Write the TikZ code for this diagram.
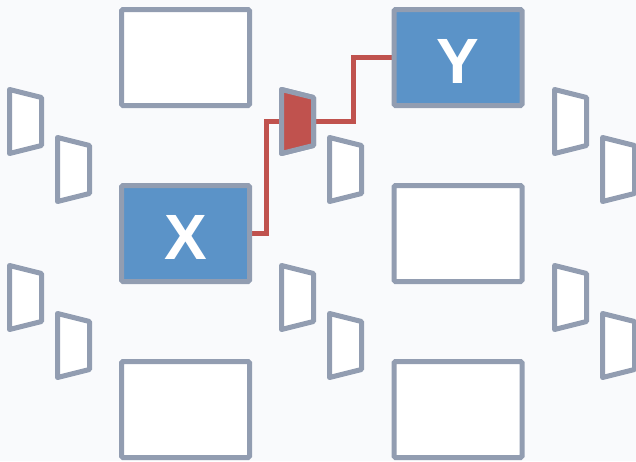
\documentclass[tikz,border=0pt]{standalone}
\usepackage{fontspec}
\setmainfont{Liberation Sans}
\usetikzlibrary{positioning}

\definecolor{frame}{HTML}{929DB1}
\definecolor{boxblue}{HTML}{5B93C8}
\definecolor{linkred}{HTML}{C0524E}
\definecolor{paper}{HTML}{F9FAFC}

\pgfdeclarelayer{bg}
\pgfdeclarelayer{wires}
\pgfsetlayers{bg,wires,main}

\tikzset{
  box/.style={draw=frame, line width=5pt, fill=white, rounded corners=1.5pt,
    minimum width=128pt, minimum height=96pt, inner sep=0pt, outer sep=0pt},
  hot/.style={box, fill=boxblue, text=white, text height=51pt, text depth=0pt,
    font=\fontsize{64}{64}\selectfont\bfseries},
  flap/.style={draw=frame, line width=5pt, line join=round},
  link/.style={draw=linkred, line width=5pt}
}

% one trapezoid, given its top left corner
\newcommand{\flapat}[3][white]{\draw[flap, fill=#1] (#2,#3) -- ++(32,8) -- ++(0,48) -- ++(-32,8) -- cycle;}

\begin{document}
\begin{tikzpicture}[x=1pt, y=-1pt]
        \begin{pgfonlayer}{bg}
          \fill[paper] (0,0) rectangle (636,461);
        \end{pgfonlayer}
        \useasboundingbox (0,0) rectangle (636,461);

        % Boxes
        \node[box] (tl) at (185.5,57.5) {};
        \node[hot, below=80pt of tl] (X) {X};
        \node[box, below=80pt of X] (bl) {};
        \node[hot, right=144.5pt of tl] (Y) {Y};
        \node[box, below=80pt of Y] (mr) {};
        \node[box, below=80pt of mr] (br) {};

        % Trapezoids
        \foreach \cx in {9.5, 281.5, 554.5}
          \foreach \ry in {89.5, 265.5} {
            \flapat{\cx}{\ry}
            \flapat{\cx+48}{\ry+48}
          }
        \flapat[linkred]{281.5}{89.5}
        \coordinate (inL) at (281.5,121.5);
        \coordinate (inR) at (313.5,121.5);

        % Path from X to Y
        \begin{pgfonlayer}{wires}
          \draw[link] (X.east) -- ++(16.5,0) |- (inL);
          \draw[link] (inR) -- ++(39.5,0) |- (Y.west);
        \end{pgfonlayer}
\end{tikzpicture}
\end{document}
